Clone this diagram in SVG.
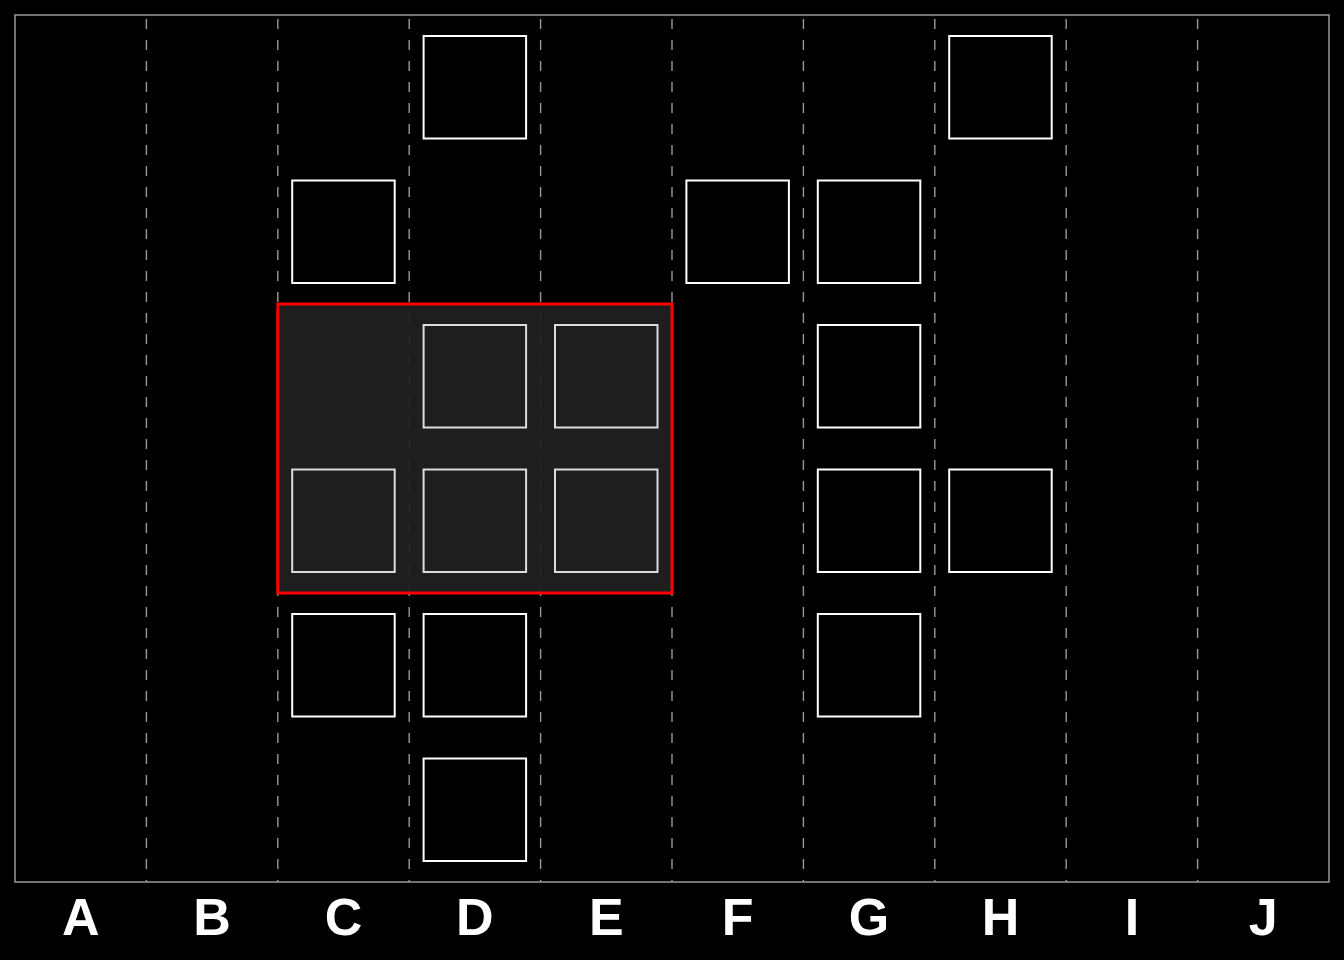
<svg xmlns="http://www.w3.org/2000/svg" width="1344" height="960" viewBox="0 0 1344 960">
<style>
.grid{stroke:#999;stroke-width:1.4;stroke-dasharray:10,11;fill:none}
.sq{fill:none;stroke:#fff;stroke-width:2}
.sqin{fill:none;stroke:#dcdcdc;stroke-width:2}
.lbl{font-family:"Liberation Sans",Arial,sans-serif;font-weight:bold;font-size:52px;fill:#fff;text-anchor:middle}
</style>
<rect width="1344" height="960" fill="#000"/>
<g id="connectors">
<line class="grid" x1="146.4" y1="19" x2="146.4" y2="882"/>
<line class="grid" x1="277.8" y1="19" x2="277.8" y2="882"/>
<line class="grid" x1="409.2" y1="19" x2="409.2" y2="882"/>
<line class="grid" x1="540.6" y1="19" x2="540.6" y2="882"/>
<line class="grid" x1="672" y1="19" x2="672" y2="882"/>
<line class="grid" x1="803.4" y1="19" x2="803.4" y2="882"/>
<line class="grid" x1="934.8" y1="19" x2="934.8" y2="882"/>
<line class="grid" x1="1066.2" y1="19" x2="1066.2" y2="882"/>
<line class="grid" x1="1197.6" y1="19" x2="1197.6" y2="882"/>
</g>
<rect x="15" y="15" width="1314" height="867" fill="none" stroke="#999" stroke-width="1.5"/>
<g id="selection">
<rect x="277.8" y="304" width="394.2" height="289" fill="#202020" fill-opacity="0.93" stroke="#f00" stroke-width="3"/>
</g>
<g id="nodes">
<rect id="D1" class="sq" x="423.6" y="36" width="102.5" height="102.5"/>
<rect id="H1" class="sq" x="949.2" y="36" width="102.5" height="102.5"/>
<rect id="C2" class="sq" x="292.2" y="180.5" width="102.5" height="102.5"/>
<rect id="F2" class="sq" x="686.4" y="180.5" width="102.5" height="102.5"/>
<rect id="G2" class="sq" x="817.8" y="180.5" width="102.5" height="102.5"/>
<rect id="D3" class="sqin" x="423.6" y="325" width="102.5" height="102.5"/>
<rect id="E3" class="sqin" x="555" y="325" width="102.5" height="102.5"/>
<rect id="G3" class="sq" x="817.8" y="325" width="102.5" height="102.5"/>
<rect id="C4" class="sqin" x="292.2" y="469.5" width="102.5" height="102.5"/>
<rect id="D4" class="sqin" x="423.6" y="469.5" width="102.5" height="102.5"/>
<rect id="E4" class="sqin" x="555" y="469.5" width="102.5" height="102.5"/>
<rect id="G4" class="sq" x="817.8" y="469.5" width="102.5" height="102.5"/>
<rect id="H4" class="sq" x="949.2" y="469.5" width="102.5" height="102.5"/>
<rect id="C5" class="sq" x="292.2" y="614" width="102.5" height="102.5"/>
<rect id="D5" class="sq" x="423.6" y="614" width="102.5" height="102.5"/>
<rect id="G5" class="sq" x="817.8" y="614" width="102.5" height="102.5"/>
<rect id="D6" class="sq" x="423.6" y="758.5" width="102.5" height="102.5"/>
</g>
<g id="labels">
<text class="lbl" x="80.7" y="935">A</text>
<text class="lbl" x="212.1" y="935">B</text>
<text class="lbl" x="343.5" y="935">C</text>
<text class="lbl" x="474.9" y="935">D</text>
<text class="lbl" x="606.3" y="935">E</text>
<text class="lbl" x="737.7" y="935">F</text>
<text class="lbl" x="869.1" y="935">G</text>
<text class="lbl" x="1000.5" y="935">H</text>
<text class="lbl" x="1131.9" y="935">I</text>
<text class="lbl" x="1263.3" y="935">J</text>
</g>
</svg>
